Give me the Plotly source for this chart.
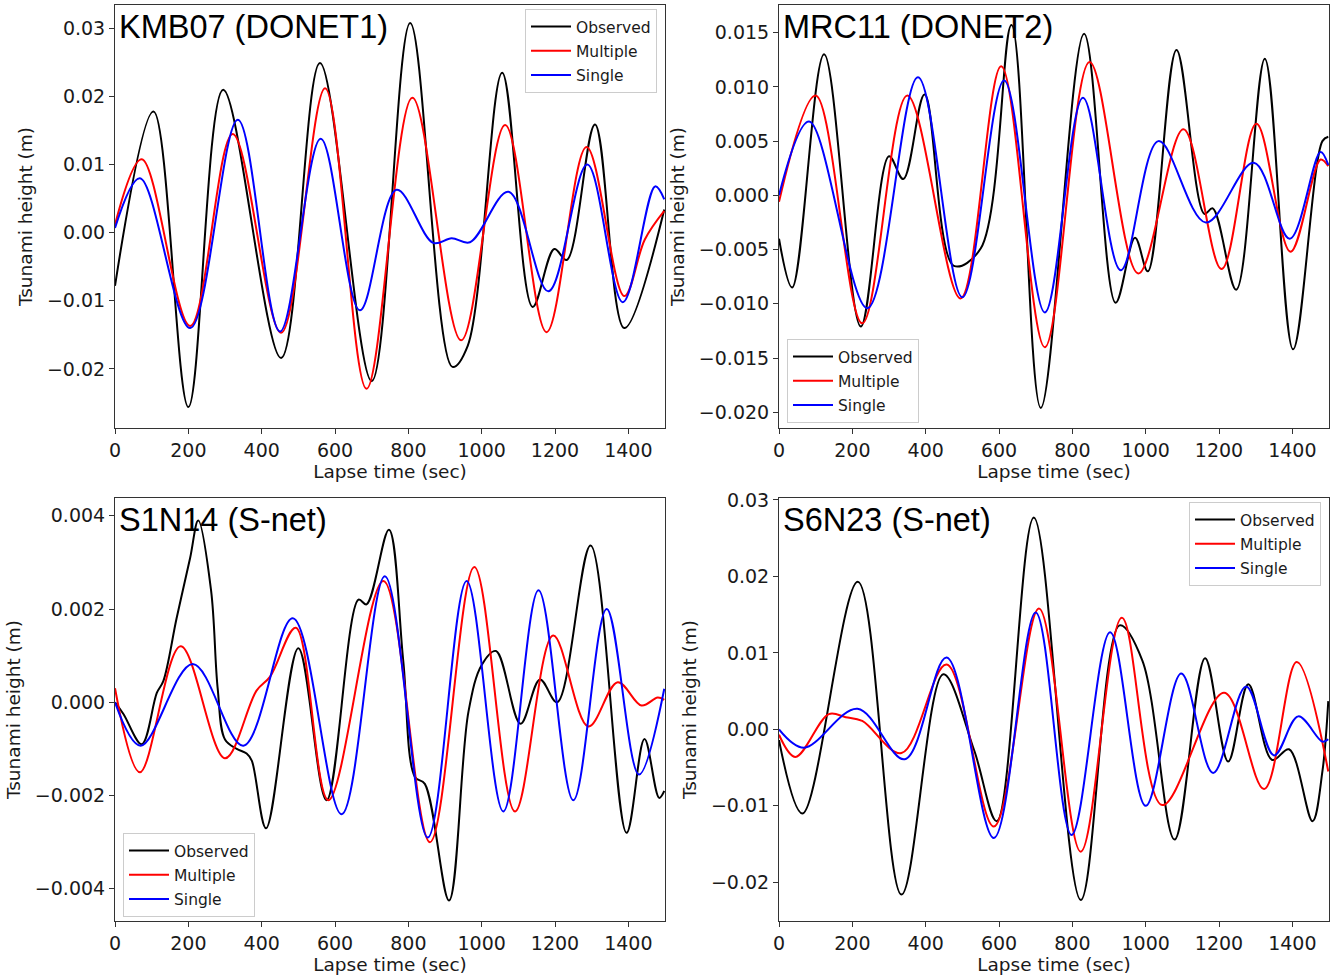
import plotly.graph_objects as go

# ---------------- data ----------------
# Panel 1: KMB07 (DONET1)
kmb_obs_t = [0, 105, 200, 295, 453, 559, 700, 805, 920, 962, 1056, 1139, 1198, 1232, 1309, 1389, 1498]
kmb_obs_v = [-0.0078, 0.0178, -0.0256, 0.0210, -0.0184, 0.0249, -0.0218, 0.0308, -0.0197, -0.0166,
             0.0235, -0.0109, -0.0024, -0.0040, 0.0159, -0.0140, 0.0034]
kmb_mul_t = [0, 73, 205, 321, 453, 573, 686, 811, 944, 1064, 1177, 1286, 1389, 1445, 1498]
kmb_mul_v = [0.0012, 0.0108, -0.0137, 0.0145, -0.0147, 0.0212, -0.0229, 0.0198, -0.0158, 0.0158,
             -0.0146, 0.0126, -0.0093, -0.0010, 0.0032]
kmb_sgl_t = [0, 68, 205, 335, 450, 561, 668, 768, 868, 918, 968, 1073, 1182, 1288, 1385, 1473, 1498]
kmb_sgl_v = [0.0007, 0.0080, -0.0140, 0.0166, -0.0145, 0.0138, -0.0114, 0.0063, -0.0015, -0.0008,
             -0.0014, 0.0060, -0.0086, 0.0100, -0.0102, 0.0068, 0.0049]

# Panel 2: MRC11 (DONET2)
mrc_obs_t = [0, 36, 123, 223, 300, 339, 397, 477, 550, 634, 714, 832, 918, 971, 1006, 1084, 1160,
             1183, 1247, 1325, 1402, 1482, 1498]
mrc_obs_v = [-0.0040, -0.0085, 0.0130, -0.0121, 0.0036, 0.0015, 0.0093, -0.0065, -0.0049, 0.0157,
             -0.0196, 0.0149, -0.0099, -0.0039, -0.0070, 0.0134, -0.0017, -0.0012, -0.0087, 0.0126,
             -0.0142, 0.0050, 0.0054]
mrc_mul_t = [0, 100, 227, 350, 495, 606, 725, 847, 980, 1103, 1207, 1302, 1395, 1477, 1498]
mrc_mul_v = [-0.0006, 0.0092, -0.0118, 0.0092, -0.0095, 0.0119, -0.0140, 0.0123, -0.0072, 0.0061,
             -0.0068, 0.0066, -0.0052, 0.0033, 0.0027]
mrc_sgl_t = [0, 82, 241, 379, 500, 614, 725, 829, 932, 1035, 1164, 1295, 1393, 1477, 1498]
mrc_sgl_v = [0.0000, 0.0068, -0.0104, 0.0109, -0.0094, 0.0106, -0.0108, 0.0090, -0.0069, 0.0050,
             -0.0025, 0.0030, -0.0040, 0.0040, 0.0028]

# Panel 3: S1N14 (S-net)
s1n_obs_t = [0, 23, 73, 114, 132, 168, 205, 227, 262, 280, 300, 332, 359, 373, 412, 500, 577, 664,
             686, 747, 786, 818, 845, 911, 964, 1000, 1039, 1106, 1159, 1206, 1297, 1395, 1444, 1484, 1498]
s1n_obs_v = [0.0000, -0.00025, -0.0009, 0.0002, 0.00046, 0.0018, 0.0031, 0.0039, 0.0024, 0.0003,
             -0.0008, -0.0010, -0.0011, -0.00125, -0.0027, 0.00116, -0.0021, 0.0022, 0.0021, 0.0037,
             0.0009, -0.0016, -0.00175, -0.00425, -0.0002, 0.0008, 0.0011, -0.00046, 0.00049, 0.0000,
             0.00336, -0.0028, -0.00079, -0.00205, -0.0019]
s1n_mul_t = [0, 68, 179, 300, 386, 423, 493, 582, 732, 859, 980, 1091, 1195, 1291, 1371, 1436, 1480, 1498]
s1n_mul_v = [0.0003, -0.0015, 0.0012, -0.0012, 0.00025, 0.00055, 0.0016, -0.0021, 0.0026, -0.0030,
             0.0029, -0.00234, 0.00143, -0.00052, 0.00043, -0.00007, 0.0001, 0.00005]
s1n_sgl_t = [0, 70, 212, 350, 485, 618, 736, 853, 959, 1059, 1155, 1250, 1341, 1429, 1498]
s1n_sgl_v = [0.0000, -0.00093, 0.00082, -0.00093, 0.0018, -0.0024, 0.0027, -0.0029, 0.0026, -0.00234,
             0.0024, -0.0021, 0.0020, -0.00155, 0.00029]

# Panel 4: S6N23 (S-net)
s6n_obs_t = [0, 64, 215, 334, 448, 532, 594, 695, 823, 929, 991, 1079, 1162, 1225, 1280, 1345, 1391,
             1455, 1482, 1498]
s6n_obs_v = [-0.0014, -0.0110, 0.0193, -0.0216, 0.0072, -0.0027, -0.0120, 0.0277, -0.0223, 0.0136,
             0.0090, -0.0144, 0.0093, -0.0042, 0.0059, -0.0040, -0.0026, -0.0120, -0.0055, 0.0037]
s6n_mul_t = [0, 45, 136, 182, 227, 334, 457, 586, 709, 823, 935, 1045, 1214, 1323, 1412, 1498]
s6n_mul_v = [-0.0007, -0.0036, 0.0020, 0.0016, 0.0011, -0.0031, 0.0085, -0.0127, 0.0158, -0.0160,
             0.0146, -0.0099, 0.0048, -0.0078, 0.0088, -0.0055]
s6n_sgl_t = [0, 68, 214, 343, 457, 586, 700, 798, 903, 1000, 1097, 1184, 1274, 1350, 1416, 1482, 1498]
s6n_sgl_v = [0.0000, -0.0024, 0.0027, -0.0039, 0.0094, -0.0142, 0.0153, -0.0138, 0.0127, -0.0100,
             0.0073, -0.0057, 0.0056, -0.0034, 0.0017, -0.0016, -0.0013]

series_names = ["Observed", "Multiple", "Single"]
series_colors = ["black", "red", "blue"]
panel_titles = ["KMB07 (DONET1)", "MRC11 (DONET2)", "S1N14 (S-net)", "S6N23 (S-net)"]
x_ticks = [0, 200, 400, 600, 800, 1000, 1200, 1400]

panels = [
    [(kmb_obs_t, kmb_obs_v), (kmb_mul_t, kmb_mul_v), (kmb_sgl_t, kmb_sgl_v)],
    [(mrc_obs_t, mrc_obs_v), (mrc_mul_t, mrc_mul_v), (mrc_sgl_t, mrc_sgl_v)],
    [(s1n_obs_t, s1n_obs_v), (s1n_mul_t, s1n_mul_v), (s1n_sgl_t, s1n_sgl_v)],
    [(s6n_obs_t, s6n_obs_v), (s6n_mul_t, s6n_mul_v), (s6n_sgl_t, s6n_sgl_v)],
]

# ---------------- layout geometry ----------------
W, H = 1332, 978
x_doms = [[115 / W, 665 / W], [779 / W, 1329 / W], [115 / W, 665 / W], [779 / W, 1329 / W]]
y_doms = [[1 - 428 / H, 1 - 5 / H], [1 - 428 / H, 1 - 5 / H],
          [1 - 921 / H, 1 - 498 / H], [1 - 921 / H, 1 - 498 / H]]
y_ranges = [[-0.02867, 0.03343], [-0.02145, 0.01755], [-0.00469, 0.00438], [-0.02506, 0.03026]]
y_dticks = [0.01, 0.005, 0.002, 0.01]
y_formats = [".2f", ".3f", ".3f", ".2f"]

legend_specs = [
    dict(x=657 / W, y=1 - 9 / H, xanchor="right", yanchor="top"),
    dict(x=787 / W, y=1 - 423 / H, xanchor="left", yanchor="bottom"),
    dict(x=123 / W, y=1 - 917 / H, xanchor="left", yanchor="bottom"),
    dict(x=1321 / W, y=1 - 502 / H, xanchor="right", yanchor="top"),
]

tick_font = dict(family="DejaVu Sans", size=19, color="#1a1a1a")
label_font = dict(family="DejaVu Sans", size=18.5, color="#1a1a1a")
spine = "#333333"

fig = go.Figure()
layout = dict(width=W, height=H, margin=dict(l=0, r=0, t=0, b=0), autosize=False,
              paper_bgcolor="white", plot_bgcolor="white", annotations=[])

for p in range(4):
    sfx = "" if p == 0 else str(p + 1)
    leg = "legend" if p == 0 else "legend" + str(p + 1)
    for s, (tt, vv) in enumerate(panels[p]):
        fig.add_trace(go.Scatter(
            x=tt, y=vv, mode="lines", name=series_names[s],
            line=dict(color=series_colors[s], width=2, shape="spline", smoothing=1.0),
            xaxis="x" + sfx, yaxis="y" + sfx, legend=leg,
            legendgroup=f"p{p}s{s}", showlegend=True,
        ))
    layout["xaxis" + sfx] = dict(
        domain=x_doms[p], anchor="y" + sfx, range=[0, 1500], tickvals=x_ticks,
        showline=True, mirror=True, linecolor=spine, linewidth=1, ticks="outside", ticklen=5,
        tickcolor=spine, showgrid=False, zeroline=False, tickfont=tick_font,
        title=dict(text="Lapse time (sec)", font=label_font, standoff=2), automargin=False,
    )
    layout["yaxis" + sfx] = dict(
        domain=y_doms[p], anchor="x" + sfx, range=y_ranges[p], tick0=0, dtick=y_dticks[p],
        tickformat=y_formats[p], showline=True, mirror=True, linecolor=spine, linewidth=1,
        ticks="outside", ticklen=5, tickcolor=spine, showgrid=False, zeroline=False,
        tickfont=tick_font,
        title=dict(text="Tsunami height (m)", font=label_font, standoff=9), automargin=False,
    )
    layout[leg] = dict(
        **legend_specs[p], bgcolor="rgba(255,255,255,0.85)", bordercolor="#cccccc", borderwidth=1,
        font=dict(family="DejaVu Sans", size=15.5, color="#1a1a1a"), tracegroupgap=1,
        itemwidth=40,
    )
    layout["annotations"].append(dict(
        text=panel_titles[p], xref="paper", yref="paper",
        x=x_doms[p][0] + 2 / W, y=y_doms[p][1] - 2 / H, xanchor="left", yanchor="top",
        showarrow=False, font=dict(family="Liberation Sans, Arial", size=32.5, color="black"),
    ))

fig.update_layout(**layout)
fig.write_html("out.html")
